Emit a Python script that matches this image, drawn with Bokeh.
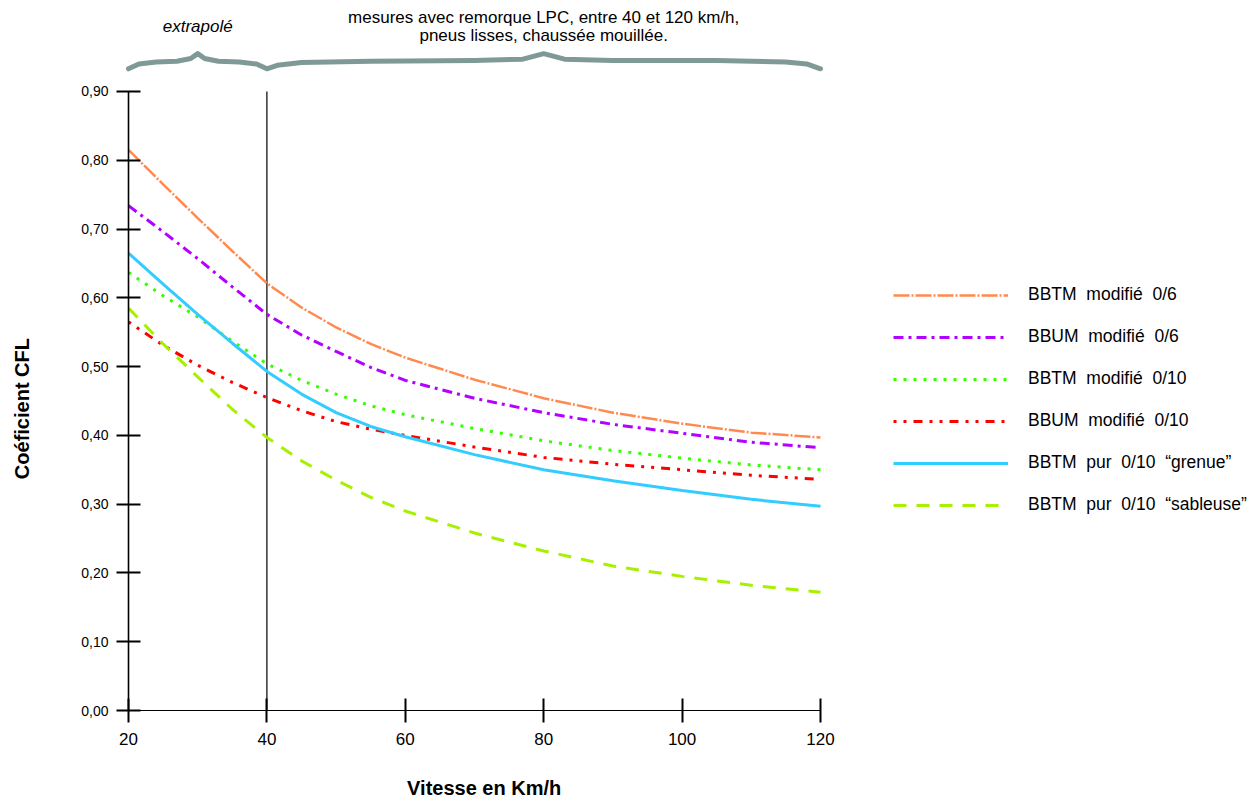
import math
from bokeh.plotting import figure
from bokeh.models import Legend, LegendItem, FixedTicker, Range1d, LinearAxis
from bokeh.core.properties import value
from bokeh.embed import file_html
from bokeh.resources import INLINE

# ---------------- data ----------------
speed = [20, 25, 30, 35, 40, 45, 50, 55, 60, 70, 80, 90, 100, 110, 120]

bbtm_mod_06 = [0.815, 0.765, 0.716, 0.668, 0.621, 0.586, 0.557, 0.533, 0.513, 0.481, 0.454, 0.433, 0.417, 0.404, 0.397]
bbum_mod_06 = [0.734, 0.696, 0.657, 0.616, 0.576, 0.546, 0.522, 0.499, 0.480, 0.454, 0.433, 0.416, 0.403, 0.390, 0.382]
bbtm_mod_010 = [0.637, 0.603, 0.572, 0.537, 0.504, 0.480, 0.460, 0.443, 0.430, 0.410, 0.392, 0.378, 0.367, 0.357, 0.350]
bbum_mod_010 = [0.565, 0.531, 0.502, 0.477, 0.455, 0.436, 0.420, 0.409, 0.400, 0.383, 0.368, 0.358, 0.350, 0.342, 0.336]
bbtm_pur_grenue = [0.665, 0.620, 0.576, 0.534, 0.493, 0.460, 0.433, 0.413, 0.398, 0.372, 0.350, 0.334, 0.320, 0.307, 0.297]
bbtm_pur_sableuse = [0.585, 0.533, 0.485, 0.438, 0.397, 0.363, 0.335, 0.310, 0.290, 0.258, 0.232, 0.210, 0.195, 0.182, 0.172]

series_names = [
    "BBTM  modifié  0/6",
    "BBUM  modifié  0/6",
    "BBTM  modifié  0/10",
    "BBUM  modifié  0/10",
    "BBTM  pur  0/10  \u201cgrenue\u201d",
    "BBTM  pur  0/10  \u201csableuse\u201d",
]

x_ticks = [20, 40, 60, 80, 100, 120]
y_ticks = [0.0, 0.1, 0.2, 0.3, 0.4, 0.5, 0.6, 0.7, 0.8, 0.9]
y_tick_labels = ["0,00", "0,10", "0,20", "0,30", "0,40", "0,50", "0,60", "0,70", "0,80", "0,90"]

x_title = "Vitesse  en  Km/h"
y_title = "Coéficient  CFL"

boundary_speed = 40  # limit between extrapolated and measured range

# brace above the plot (speed, level)
brace_x = [20, 21.5, 24, 27, 29, 30, 31, 33, 36, 38.5, 40, 41.5, 45, 55, 70, 77, 80, 83, 90, 105, 115, 118, 120]
brace_y = [0.933, 0.940, 0.943, 0.944, 0.948, 0.955, 0.948, 0.944, 0.943, 0.940, 0.933, 0.938, 0.942, 0.944, 0.945, 0.947, 0.955, 0.947, 0.945, 0.945, 0.943, 0.940, 0.933]

note_left = "extrapolé"
note_right_1 = "mesures avec remorque LPC, entre 40 et 120 km/h,"
note_right_2 = "pneus lisses, chaussée mouillée."

# ---------------- figure ----------------
FONT = "Liberation Sans"
W, H = 1256, 802
X0_PX, X_SCALE = 128, 6.92      # px of speed 20, px per km/h
Y0_PX, Y_SCALE = 710, 687.8     # px of CFL 0, px per unit

x_range = Range1d(20 - X0_PX / X_SCALE, 20 + (W - X0_PX) / X_SCALE)
y_range = Range1d(-(H - Y0_PX) / Y_SCALE, Y0_PX / Y_SCALE)

p = figure(width=W, height=H, x_range=x_range, y_range=y_range,
           x_axis_location=None, y_axis_location=None,
           output_backend="svg", toolbar_location=None,
           min_border_left=0, min_border_right=0, min_border_top=0, min_border_bottom=0)
p.grid.visible = False
p.outline_line_color = None
p.background_fill_color = "white"
p.border_fill_color = "white"

xaxis = LinearAxis(fixed_location=y_ticks[0], bounds=(x_ticks[0], x_ticks[-1]),
                   ticker=FixedTicker(ticks=x_ticks))
yaxis = LinearAxis(fixed_location=x_ticks[0], bounds=(y_ticks[0], y_ticks[-1]),
                   ticker=FixedTicker(ticks=y_ticks),
                   major_label_overrides={t: l for t, l in zip(y_ticks, y_tick_labels)})
for ax in (xaxis, yaxis):
    ax.major_tick_in = 12
    ax.major_tick_out = 12
    ax.minor_tick_line_color = None
    ax.major_tick_line_width = 2
    ax.major_label_text_font = FONT
    ax.major_label_text_color = "black"
    ax.axis_line_color = "black"
    ax.major_tick_line_color = "black"

xaxis.axis_line_width = 1.2
xaxis.major_label_text_font_size = "17px"
xaxis.major_label_standoff = 10
yaxis.axis_line_width = 1.6
yaxis.major_label_text_font_size = "14px"
yaxis.major_label_standoff = 8
p.add_layout(xaxis, "below")
p.add_layout(yaxis, "left")

# axis titles
p.text(x=[72.2], y=[-0.1125], text=[x_title], text_font=value(FONT), text_font_style="bold",
       text_font_size="20px", text_align="center", text_baseline="middle", text_color="black")
p.text(x=[4.68], y=[0.443], text=[y_title], angle=math.pi / 2, text_font=value(FONT),
       text_font_style="bold", text_font_size="20px", text_align="center",
       text_baseline="middle", text_color="black")

# boundary line at 40 km/h
p.segment(x0=[boundary_speed], y0=[y_ticks[0]], x1=[boundary_speed], y1=[y_ticks[-1]],
          line_color="black", line_width=1.2)

# curves
styles = [
    (bbtm_mod_06, "#ff8a4f", "16 2 2 2", 2.5),
    (bbum_mod_06, "#b400ff", "10 5 3 5", 3),
    (bbtm_mod_010, "#33ff00", "3 7", 3),
    (bbum_mod_010, "#ff0000", "3 7 3 7 9 7", 3),
    (bbtm_pur_grenue, "#33ccff", "solid", 3),
    (bbtm_pur_sableuse, "#a6f000", "13 10", 3),
]
items = []
for (vals, color, dash, lw), name in zip(styles, series_names):
    r = p.line(speed, vals, line_color=color, line_dash=dash, line_width=lw)
    items.append(LegendItem(label=name, renderers=[r]))

legend = Legend(items=items, location=(893, H - 515),
                glyph_width=115, glyph_height=20, label_height=20, spacing=21,
                label_standoff=20, padding=0, margin=0,
                border_line_color=None, background_fill_alpha=0,
                label_text_font=FONT, label_text_font_size="17.5px", label_text_color="black")
p.add_layout(legend)

# brace and notes
p.line(brace_x, brace_y, line_color="#7f9a96", line_width=5, line_join="round", line_cap="round")
p.text(x=[30], y=[0.9945], text=[note_left], text_font=value(FONT), text_font_style="italic",
       text_font_size="17px", text_align="center", text_baseline="middle", text_color="black")
p.text(x=[80, 80], y=[1.0075, 0.982], text=[note_right_1, note_right_2], text_font=value(FONT),
       text_font_size="17px", text_align="center", text_baseline="middle", text_color="black")

open("out.html", "w").write(file_html(p, INLINE))
